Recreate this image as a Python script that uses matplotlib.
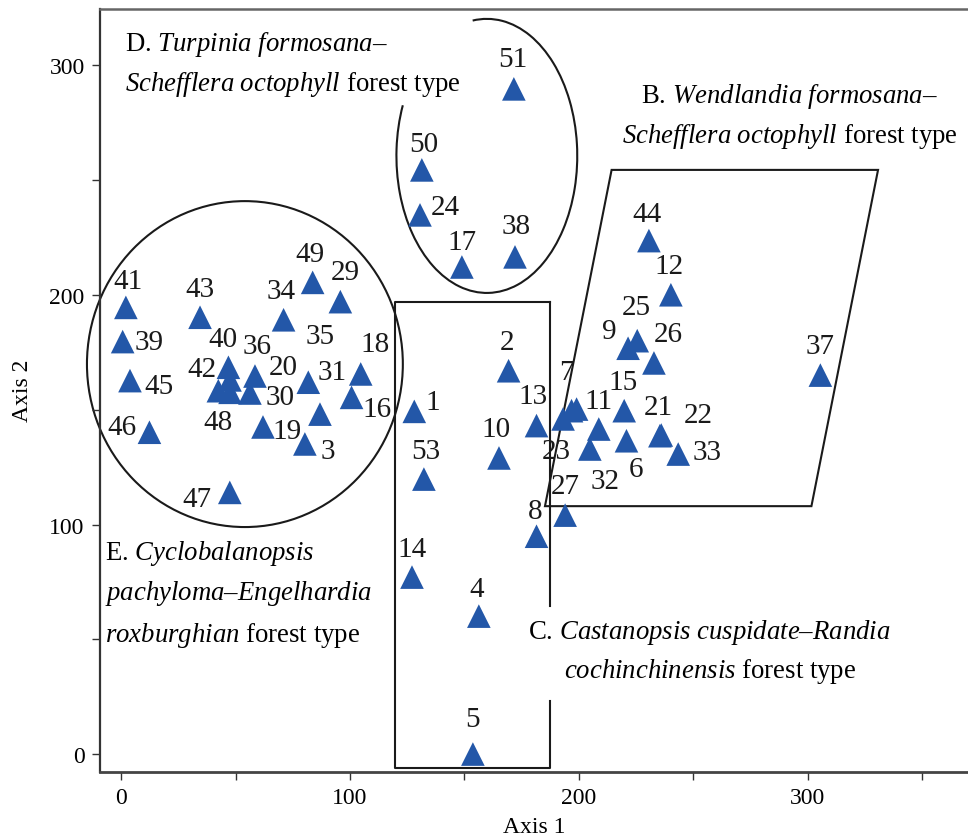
import numpy as np
import matplotlib
matplotlib.use('Agg')
import matplotlib.pyplot as plt
from matplotlib.patches import Ellipse, Arc, Polygon

plt.rcParams['font.family'] = ['Liberation Serif', 'DejaVu Serif']
plt.rcParams['mathtext.fontset'] = 'custom'
plt.rcParams['mathtext.rm'] = 'Liberation Serif'
plt.rcParams['mathtext.it'] = 'Liberation Serif:italic'

# plot ids, ordination scores (axis 1, axis 2)
plot_ids = ['1', '2', '3', '4', '5', '6', '7', '8', '9', '10', '11', '12', '13', '14', '15',
            '16', '17', '18', '19', '20', '21', '22', '23', '24', '25', '26', '27', '29', '30',
            '31', '32', '33', '34', '35', '36', '37', '38', '39', '40', '41', '42', '43', '44',
            '45', '46', '47', '48', '49', '50', '51', '53', '']
axis1 = [128.1, 169.3, 80.3, 156.3, 153.7, 220.8, 199.0, 181.5, 221.5, 165.1, 208.7, 240.2, 181.5,
         127.1, 219.8, 100.7, 148.9, 104.7, 62.0, 58.5, 235.4, 236.0, 193.1, 130.6, 225.5, 232.8,
         194.0, 95.8, 56.3, 86.9, 204.8, 243.4, 71.0, 81.8, 47.6, 305.5, 172.1, 0.7, 46.9, 2.1,
         42.5, 34.5, 230.6, 3.9, 12.4, 47.5, 47.6, 83.7, 131.4, 171.6, 132.3, 196.8]
axis2 = [149.3, 167.0, 135.1, 60.1, 0.0, 136.5, 150.3, 94.9, 176.8, 129.0, 141.6, 200.1, 143.1,
         77.1, 149.6, 155.4, 212.2, 165.6, 142.5, 164.7, 138.7, 139.0, 146.0, 234.9, 180.1, 170.4,
         104.1, 197.1, 157.3, 148.1, 132.9, 130.7, 189.2, 162.0, 163.0, 165.1, 216.6, 179.7, 168.5,
         194.6, 158.3, 190.3, 223.7, 162.7, 140.2, 114.0, 157.6, 205.5, 254.5, 289.8, 119.8, 149.6]

# where each id label sits relative to its triangle (pixels)
label_dx = [18.7, -1.4, 23.3, -2, 0, 10, -10, -1, -18.3, -3, -0.7, -1.7, -3.4, 0, -1, 25, -0.3,
            14.3, 24, 28.3, -1.7, 36.7, -6.6, 25.7, -0.6, 14.3, 0.4, 4.7, 30, 11.7, 15, 28.4,
            -2.7, 11.7, 26.7, 0, 1, 26.6, -5.3, 2.6, -16.6, 0, -2.3, 29.3, -27.6, -33, -11.7,
            -2.7, 2.3, -0.7, 1.7, 0]
label_dy = [9.3, 28.4, -6.7, 27, 35, -28.3, 36.7, 25.6, 17.6, 29, 28.3, 28.4, 30, 28, 28.4, -11.7,
            24.7, 30, -4, 8.7, 28.4, 20, -31.7, 7.7, 33.4, 29, 29.3, 29.4, -4.3, 41.7, -31.7, 1.7,
            28.7, 46.6, 34.3, 29.3, 31.3, -0.6, 28.3, 26.6, 21.7, 28.3, 26.7, -5, 5, -6.7, -30,
            28.3, 26, 30, 28.3, 0]

# forest type outlines
e_center, e_size = (54.1, 169.9), (138, 142)
d_center, d_size = (159.8, 260.6), (79, 119.4)
b_outline = [(214.3, 254.5), (330.7, 254.5), (301.6, 108.0), (185.2, 108.0)]
c_x0, c_x1, c_y0, c_y1 = 119.7, 187.3, -6.0, 197.0
c_gap = (23.0, 64.6)

fig = plt.figure(figsize=(9.68, 8.37), dpi=100)
ax = fig.add_axes([100 / 968, 64.5 / 837, 868 / 968, 762.5 / 837])

ax.scatter(axis1, axis2, marker='^', s=17 ** 2, color='#2357a8', edgecolors='none', zorder=3)
for lab, x, y, dx, dy in zip(plot_ids, axis1, axis2, label_dx, label_dy):
    if lab:
        ax.annotate(lab, (x, y), xytext=(dx, dy), textcoords='offset pixels',
                    ha='center', va='center', fontsize=21, color='#1a1a1a', zorder=4)

lc = '#1a1a1a'
ax.add_patch(Ellipse(e_center, e_size[0], e_size[1], fill=False, ec=lc, lw=1.5, clip_on=False))
ax.add_patch(Arc(d_center, d_size[0], d_size[1], theta1=149, theta2=96, ec=lc, lw=1.5))
ax.add_patch(Polygon(b_outline, closed=True, fill=False, ec=lc, lw=1.5))
ax.plot([c_x1, c_x0, c_x0, c_x1, c_x1], [c_y1, c_y1, c_y0, c_y0, c_gap[0]], color=lc, lw=1.5)
ax.plot([c_x1, c_x1], [c_y1, c_gap[1]], color=lc, lw=1.5)

fs = 19.3
ax.text(1.7, 309.4, r'D. $\mathit{Turpinia\ formosana}$–', fontsize=fs, ha='left', va='center')
ax.text(1.7, 292.0, r'$\mathit{Schefflera\ octophyll}$ forest type', fontsize=fs, ha='left', va='center')
ax.text(292.1, 286.7, r'B. $\mathit{Wendlandia\ formosana}$–', fontsize=fs, ha='center', va='center')
ax.text(292.1, 269.3, r'$\mathit{Schefflera\ octophyll}$ forest type', fontsize=fs, ha='center', va='center')
ax.text(-7.0, 88.0, r'E. $\mathit{Cyclobalanopsis}$', fontsize=fs, ha='left', va='center')
ax.text(-7.0, 70.2, r'$\mathit{pachyloma}$–$\mathit{Engelhardia}$', fontsize=fs, ha='left', va='center')
ax.text(-7.0, 52.3, r'$\mathit{roxburghian}$ forest type', fontsize=fs, ha='left', va='center')
ax.text(256.8, 53.6, r'C. $\mathit{Castanopsis\ cuspidate}$–$\mathit{Randia}$', fontsize=fs, ha='center', va='center')
ax.text(257.2, 36.6, r'$\mathit{cochinchinensis}$ forest type', fontsize=fs, ha='center', va='center')

ax.set_xlim(-9.2, 370)
ax.set_ylim(-7.6, 324.6)
ax.set_xticks([0, 100, 200, 300])
ax.set_xticks([50, 150, 250, 350], minor=True)
ax.set_yticks([0, 100, 200, 300])
ax.set_yticks([50, 150, 250], minor=True)
ax.tick_params(which='both', direction='out', length=6, width=1, color='#333333',
               labelsize=17, pad=5)
ax.spines['right'].set_visible(False)
ax.spines['left'].set_color('#333333')
ax.spines['left'].set_linewidth(1.6)
ax.spines['top'].set_color('#666666')
ax.spines['top'].set_linewidth(1.8)
ax.spines['bottom'].set_color('#444444')
ax.spines['bottom'].set_linewidth(2)
ax.set_xlabel('Axis 1', fontsize=17, labelpad=6)
ax.set_ylabel('Axis 2', fontsize=17, labelpad=12)

fig.savefig('out.png', dpi=100)
